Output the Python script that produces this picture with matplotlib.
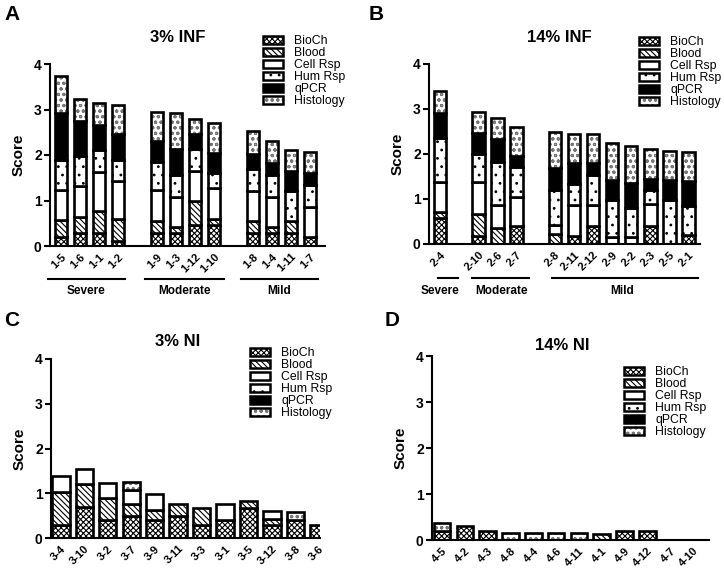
"""
Stacked score bars for four infection groups, one panel each.
"""
import numpy as np
import matplotlib
matplotlib.use("Agg")
import matplotlib.pyplot as plt
from matplotlib.patches import Patch

plt.rcParams["font.family"] = ["Liberation Sans", "DejaVu Sans"]
plt.rcParams["hatch.linewidth"] = 0.8

W, H = 724, 573

CATEGORIES = ["BioCh", "Blood", "Cell Rsp", "Hum Rsp", "qPCR", "Histology"]

# Panel A - 3% INF
a_labels = ["1-5", "1-6", "1-1", "1-2", "1-9", "1-3", "1-12", "1-10",
            "1-8", "1-4", "1-11", "1-7"]
a_bioch = [0.20, 0.28, 0.28, 0.10, 0.28, 0.28, 0.47, 0.47, 0.28, 0.28, 0.28, 0.20]
a_blood = [0.37, 0.36, 0.50, 0.50, 0.27, 0.14, 0.51, 0.13, 0.27, 0.14, 0.27, 0.00]
a_cell = [0.65, 0.68, 0.85, 0.82, 0.67, 0.66, 0.67, 0.68, 0.65, 0.66, 0.00, 0.66]
a_hum = [0.66, 0.66, 0.47, 0.47, 0.63, 0.48, 0.48, 0.32, 0.50, 0.48, 0.65, 0.49]
a_qpcr = [1.05, 0.76, 0.55, 0.57, 0.46, 0.57, 0.34, 0.44, 0.33, 0.26, 0.44, 0.25]
a_hist = [0.81, 0.48, 0.49, 0.63, 0.64, 0.80, 0.33, 0.66, 0.49, 0.48, 0.48, 0.47]
a_groups = ["Severe", "Moderate", "Mild"]

# Panel B - 14% INF
b_labels = ["2-4", "2-10", "2-6", "2-7", "2-8", "2-11", "2-12", "2-9",
            "2-2", "2-3", "2-5", "2-1"]
b_bioch = [0.58, 0.18, 0.00, 0.41, 0.00, 0.18, 0.39, 0.00, 0.00, 0.39, 0.00, 0.20]
b_blood = [0.14, 0.49, 0.36, 0.00, 0.23, 0.00, 0.00, 0.00, 0.00, 0.00, 0.00, 0.00]
b_cell = [0.65, 0.70, 0.50, 0.63, 0.19, 0.68, 0.48, 0.15, 0.15, 0.49, 0.00, 0.00]
b_hum = [0.99, 0.63, 0.97, 0.67, 0.78, 0.47, 0.67, 0.82, 0.65, 0.32, 0.97, 0.64]
b_qpcr = [0.55, 0.46, 0.50, 0.25, 0.48, 0.47, 0.26, 0.45, 0.56, 0.25, 0.45, 0.56]
b_hist = [0.50, 0.48, 0.46, 0.65, 0.81, 0.65, 0.65, 0.82, 0.82, 0.65, 0.65, 0.64]
b_groups = ["Severe", "Moderate", "Mild"]

# Panel C - 3% NI
c_labels = ["3-4", "3-10", "3-2", "3-7", "3-9", "3-11", "3-3", "3-1",
            "3-5", "3-12", "3-8", "3-6"]
c_bioch = [0.30, 0.70, 0.40, 0.50, 0.40, 0.50, 0.30, 0.40, 0.68, 0.30, 0.40, 0.30]
c_blood = [0.73, 0.50, 0.50, 0.25, 0.23, 0.25, 0.38, 0.00, 0.14, 0.12, 0.00, 0.00]
c_cell = [0.35, 0.35, 0.33, 0.32, 0.35, 0.00, 0.00, 0.35, 0.00, 0.18, 0.00, 0.00]
c_hum = [0.0] * 12
c_qpcr = [0.0] * 12
c_hist = [0.00, 0.00, 0.00, 0.18, 0.00, 0.00, 0.00, 0.00, 0.00, 0.00, 0.18, 0.00]

# Panel D - 14% NI
d_labels = ["4-5", "4-2", "4-3", "4-8", "4-4", "4-6", "4-11", "4-1",
            "4-9", "4-12", "4-7", "4-10"]
d_bioch = [0.20, 0.30, 0.20, 0.00, 0.00, 0.00, 0.00, 0.00, 0.20, 0.20, 0.00, 0.00]
d_blood = [0.00, 0.00, 0.00, 0.00, 0.00, 0.00, 0.00, 0.12, 0.00, 0.00, 0.00, 0.00]
d_cell = [0.0] * 12
d_hum = [0.0] * 12
d_qpcr = [0.0] * 12
d_hist = [0.18, 0.00, 0.00, 0.16, 0.16, 0.16, 0.16, 0.00, 0.00, 0.00, 0.00, 0.00]

# hatch, hatch colour, face colour for each category
STYLES = {
    "BioCh": ("xxxxxx", "black", "white"),
    "Blood": ("\\\\\\\\\\\\", "black", "white"),
    "Cell Rsp": ("", "black", "white"),
    "Hum Rsp": ("..", "black", "white"),
    "qPCR": ("", "black", "black"),
    "Histology": ("ooo", "#777777", "white"),
}


def px_axes(fig, left, right, y0, y4):
    """Add an axes given pixel positions of its left/right edge and y=0/y=4."""
    return fig.add_axes([left / W, 1 - y0 / H, (right - left) / W, (y0 - y4) / H])


def draw_panel(ax, labels, positions, values, width, xlim):
    """Stacked bars with hatched segments and thick black outlines."""
    pos = np.array(positions, dtype=float)
    bottom = np.zeros(len(pos))
    for cat, vals in zip(CATEGORIES, values):
        vals = np.array(vals, dtype=float)
        m = vals > 0
        hatch, hcol, fcol = STYLES[cat]
        if m.any():
            ax.bar(pos[m], vals[m], width, bottom=bottom[m], color=fcol,
                   edgecolor=hcol, hatch=hatch, linewidth=0)
            ax.bar(pos[m], vals[m], width, bottom=bottom[m], fill=False,
                   edgecolor="black", linewidth=1.9)
        bottom += vals
    ax.set_xlim(*xlim)
    ax.set_ylim(0, 4)
    ax.set_yticks([0, 1, 2, 3, 4])
    ax.set_xticks(pos)
    ax.set_xticklabels(labels, rotation=45, ha="right", rotation_mode="anchor",
                       fontsize=8, fontweight="bold")
    for t in ax.get_yticklabels():
        t.set_fontweight("bold")
    ax.tick_params(axis="x", length=0, pad=4)
    ax.tick_params(axis="y", length=4, width=1.5, labelsize=10, pad=2)
    for side in ["top", "right"]:
        ax.spines[side].set_visible(False)
    for side in ["left", "bottom"]:
        ax.spines[side].set_linewidth(1.5)
    ax.set_ylabel("Score", fontsize=11, fontweight="bold", labelpad=6)


def add_legend(ax, x, y):
    """Legend placed with its top-left corner at pixel (x, y)."""
    handles = []
    for cat in CATEGORIES:
        hatch, hcol, fcol = STYLES[cat]
        fill = Patch(facecolor=fcol, edgecolor=hcol, hatch=hatch, linewidth=0)
        edge = Patch(fill=False, edgecolor="black", linewidth=1.8)
        handles.append((fill, edge))
    ax.legend(handles, CATEGORIES, loc="upper left",
              bbox_to_anchor=(x / W, 1 - y / H), bbox_transform=ax.figure.transFigure,
              frameon=False, fontsize=8.8, handlelength=1.65, handleheight=0.65,
              handletextpad=0.9, labelspacing=0.0, borderpad=0, borderaxespad=0)


def add_groups(ax, names, spans, centers, y_line, y_text):
    """Group lines and names under the tick labels."""
    trans = ax.get_xaxis_transform()
    for name, (x0, x1), xc in zip(names, spans, centers):
        ax.plot([x0, x1], [y_line, y_line], transform=trans, color="black",
                linewidth=1.5, clip_on=False)
        ax.text(xc, y_text, name, transform=trans, ha="center", va="center",
                fontsize=8.5, fontweight="bold")


fig = plt.figure(figsize=(W / 100, H / 100), dpi=100)

# A
ax_a = px_axes(fig, 50, 325, 246, 64)
pos_a = [0, 1, 2, 3, 5, 6, 7, 8, 10, 11, 12, 13]
draw_panel(ax_a, a_labels, pos_a,
           [a_bioch, a_blood, a_cell, a_hum, a_qpcr, a_hist], 0.63, (-0.56, 13.77))
add_legend(ax_a, 263, 35)
add_groups(ax_a, a_groups, [(-0.66, 3.34), (4.4, 8.5), (9.4, 13.4)],
           [1.34, 6.45, 11.4], -0.181, -0.25)

# B
ax_b = px_axes(fig, 429, 700, 244, 64)
pos_b = [0, 2, 3, 4, 6, 7, 8, 9, 10, 11, 12, 13]
draw_panel(ax_b, b_labels, pos_b,
           [b_bioch, b_blood, b_cell, b_hum, b_qpcr, b_hist], 0.65, (-0.58, 13.6))
add_legend(ax_b, 639, 36)
add_groups(ax_b, b_groups, [(-0.1, 0.95), (1.68, 4.66), (5.86, 13.5)],
           [0.0, 3.2, 9.5], -0.189, -0.26)

# C
ax_c = px_axes(fig, 51, 320, 538, 359)
pos_c = np.arange(len(c_labels))
draw_panel(ax_c, c_labels, pos_c,
           [c_bioch, c_blood, c_cell, c_hum, c_qpcr, c_hist], 0.74, (-0.42, 11.05))
add_legend(ax_c, 250, 347)

# D
ax_d = px_axes(fig, 432, 709, 540, 356)
pos_d = np.arange(len(d_labels))
draw_panel(ax_d, d_labels, pos_d,
           [d_bioch, d_blood, d_cell, d_hum, d_qpcr, d_hist], 0.73, (-0.44, 11.7))
add_legend(ax_d, 624, 366)

# Titles and panel letters
for text, x, y in [("3% INF", 178, 37), ("14% INF", 559, 37),
                   ("3% NI", 178, 342), ("14% NI", 562, 345)]:
    fig.text(x / W, 1 - y / H, text, ha="center", va="center",
             fontsize=12, fontweight="bold")
for text, x, y in [("A", 4, 5), ("B", 369, 5), ("C", 4, 311), ("D", 385, 311)]:
    fig.text(x / W, 1 - y / H, text, ha="left", va="top",
             fontsize=15, fontweight="bold")

fig.savefig("out.png", dpi=100)
